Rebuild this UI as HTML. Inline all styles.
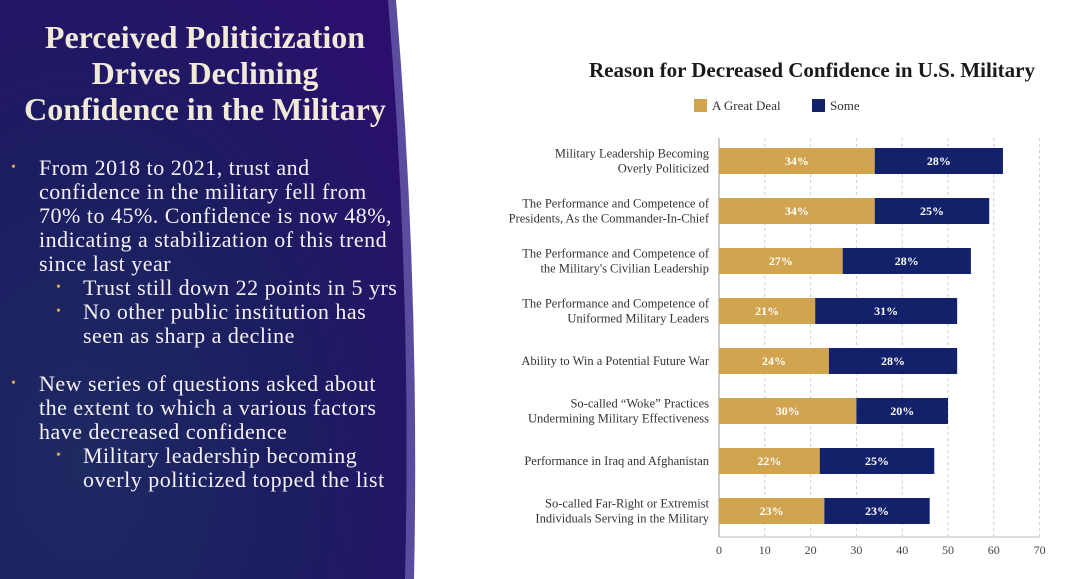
<!DOCTYPE html>
<html><head><meta charset="utf-8"><style>
body{margin:0;width:1080px;height:579px;overflow:hidden;background:#fff;font-family:"Liberation Serif",serif;position:relative}
#left{position:absolute;left:0;top:0;width:440px;height:579px}
.t{position:absolute;color:#f1ead8;font-weight:bold;font-size:32px;text-align:center;width:410px;left:0;line-height:36px;top:19px}
.b{position:absolute;color:#f4f2f6;font-size:22px;letter-spacing:0.5px;line-height:24px;white-space:nowrap}
.dot{position:absolute;color:#d6a94f;font-size:14px}
</style></head><body>
<svg id="left" width="440" height="579" style="position:absolute;left:0;top:0">
<defs><radialGradient id="g" cx="0.2" cy="0.8" r="1"><stop offset="0" stop-color="#1e2a62"/><stop offset="0.55" stop-color="#1c1c60"/><stop offset="1" stop-color="#2a106c"/></radialGradient></defs>
<path d="M0 0 H396 Q420 290 414 579 H0 Z" fill="#5c4ca0"/>
<path d="M0 0 H388 Q412 290 405 579 H0 Z" fill="url(#g)"/>
</svg>
<div class="t">Perceived Politicization<br>Drives Declining<br>Confidence in the Military</div>
<div class="dot" style="left:11px;top:160px">•</div>
<div class="b" style="left:39px;top:156px">From 2018 to 2021, trust and<br>confidence in the military fell from<br>70% to 45%. Confidence is now 48%,<br>indicating a stabilization of this trend<br>since last year</div>
<div class="dot" style="left:56px;top:280px">•</div>
<div class="b" style="left:83px;top:276px">Trust still down 22 points in 5 yrs</div>
<div class="dot" style="left:56px;top:304px">•</div>
<div class="b" style="left:83px;top:300px">No other public institution has<br>seen as sharp a decline</div>
<div class="dot" style="left:11px;top:376px">•</div>
<div class="b" style="left:39px;top:372px">New series of questions asked about<br>the extent to which a various factors<br>have decreased confidence</div>
<div class="dot" style="left:56px;top:448px">•</div>
<div class="b" style="left:83px;top:444px">Military leadership becoming<br>overly politicized topped the list</div>

<svg id="chart" width="1080" height="579" style="position:absolute;left:0;top:0" font-family="Liberation Serif, serif">
<text x="812" y="77" text-anchor="middle" font-size="21" font-weight="bold" fill="#1a1a1a">Reason for Decreased Confidence in U.S. Military</text>
<g>
<rect x="694" y="99" width="13" height="13" fill="#d1a54f"/>
<text x="712" y="110" font-size="13" fill="#333">A Great Deal</text>
<rect x="812" y="99" width="13" height="13" fill="#13216b"/>
<text x="830" y="110" font-size="13" fill="#333">Some</text>
</g>
<g id="plot"></g>
</svg>
<script>
const categories=[["Military Leadership Becoming","Overly Politicized"],["The Performance and Competence of","Presidents, As the Commander-In-Chief"],["The Performance and Competence of","the Military's Civilian Leadership"],["The Performance and Competence of","Uniformed Military Leaders"],["Ability to Win a Potential Future War"],["So-called \u201cWoke\u201d Practices","Undermining Military Effectiveness"],["Performance in Iraq and Afghanistan"],["So-called Far-Right or Extremist","Individuals Serving in the Military"]];
const greatDeal=[34,34,27,21,24,30,22,23];
const some=[28,25,28,31,28,20,25,23];
const ticks=[0,10,20,30,40,50,60,70];
const NS="http://www.w3.org/2000/svg";
const g=document.getElementById('plot');
const x0=719,pxu=4.58,top0=136,step=50;
const X=v=>x0+v*pxu;
const Y=i=>top0+i*step+25;
function mk(t,a){const e=document.createElementNS(NS,t);for(const k in a)e.setAttribute(k,a[k]);g.appendChild(e);return e;}
ticks.forEach(t=>{
  if(t>0){const l=mk('line',{x1:X(t),x2:X(t),y1:138,y2:537,stroke:'#ccc','stroke-dasharray':'3,3'});
  
  }
  const tx=mk('text',{x:X(t),y:554,'text-anchor':'middle','font-size':12,fill:'#444'});tx.textContent=t;
  
  
});
const ax=mk('line',{x1:x0,x2:x0,y1:138,y2:537,stroke:'#999'});


const bx=mk('line',{x1:x0,x2:X(70),y1:537,y2:537,stroke:'#bbb'});


categories.forEach((c,i)=>{
  const cy=Y(i),h=26;
  const r1=mk('rect',{x:X(0),y:cy-h/2,width:X(greatDeal[i])-X(0),height:h,fill:'#d1a54f'});
  
  
  const r2=mk('rect',{x:X(greatDeal[i]),y:cy-h/2,width:X(greatDeal[i]+some[i])-X(greatDeal[i]),height:h,fill:'#13216b'});
  
  
  const t1=mk('text',{x:X(greatDeal[i]/2),y:cy+4,'text-anchor':'middle','font-size':12,'font-weight':'bold',fill:'#fff'});t1.textContent=greatDeal[i]+'%';
  
  
  const t2=mk('text',{x:X(greatDeal[i]+some[i]/2),y:cy+4,'text-anchor':'middle','font-size':12,'font-weight':'bold',fill:'#fff'});t2.textContent=some[i]+'%';
  
  
  c.forEach((line,j)=>{
    const ly=cy+4+(j-(c.length-1)/2)*15;
    const t=mk('text',{x:709,y:ly,'text-anchor':'end','font-size':12.5,fill:'#333'});t.textContent=line;
    
    
  });
});
</script>
</body></html>
